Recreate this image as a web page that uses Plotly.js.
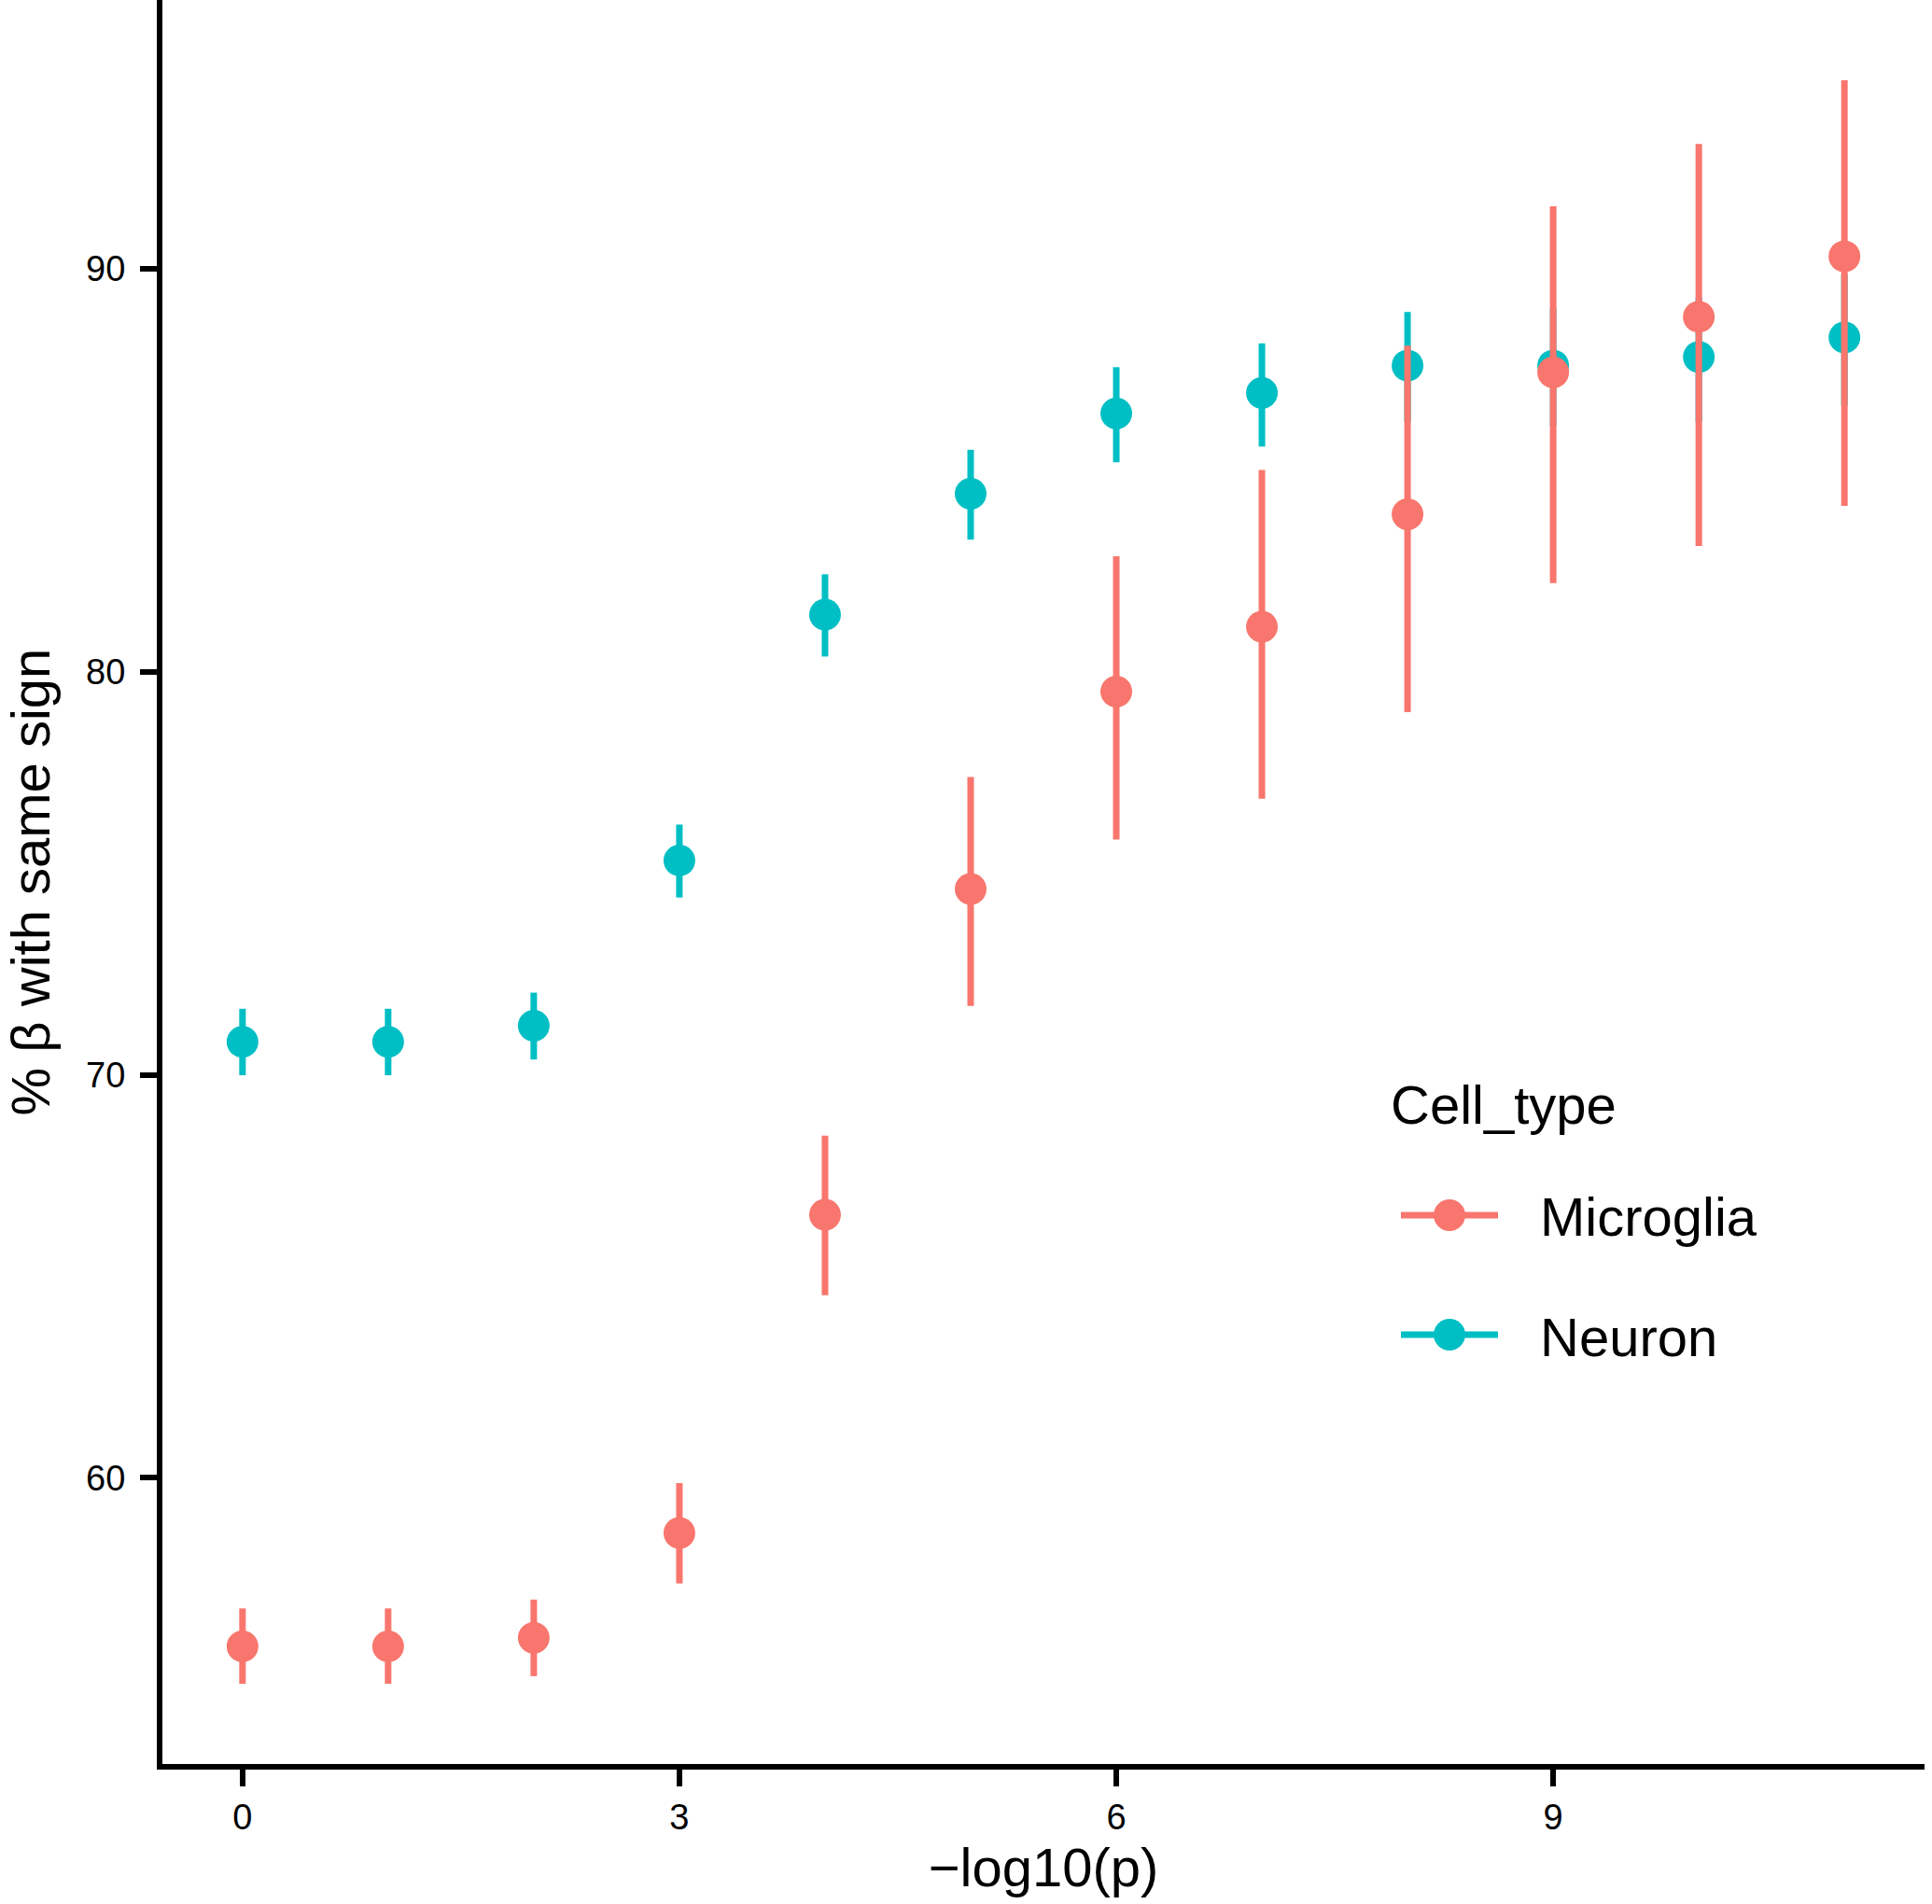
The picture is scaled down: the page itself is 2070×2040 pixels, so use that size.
<!DOCTYPE html>
<html>
<head>
<meta charset="utf-8">
<script src="https://cdn.plot.ly/plotly-3.0.1.min.js"></script>
<style>html,body{margin:0;padding:0;background:#fff;}#chart{width:2070px;height:2040px;}</style>
</head>
<body>
<div id="chart"></div>
<script>
// ---- data ----
const xVals = [0, 1, 2, 3, 4, 5, 6, 7, 8, 9, 10, 11];
const neuronMean = [70.82, 70.82, 71.22, 75.32, 81.42, 84.42, 86.41, 86.92, 87.60, 87.60, 87.81, 88.30];
const neuronLow  = [69.99, 69.99, 70.38, 74.40, 80.38, 83.28, 85.20, 85.59, 86.21, 86.10, 86.20, 86.60];
const neuronHigh = [71.64, 71.64, 72.04, 76.21, 82.42, 85.51, 87.56, 88.15, 88.93, 89.02, 89.29, 89.86];
const microMean  = [55.82, 55.82, 56.03, 58.63, 66.53, 74.61, 79.51, 81.12, 83.91, 87.43, 88.81, 90.31];
const microLow   = [54.89, 54.89, 55.08, 57.38, 64.53, 71.71, 75.84, 76.85, 79.00, 82.20, 83.12, 84.12];
const microHigh  = [56.76, 56.76, 56.98, 59.87, 68.49, 77.39, 82.87, 85.01, 88.09, 91.55, 93.10, 94.68];
const seriesNames = ["Microglia", "Neuron"];
const legendTitle = "Cell_type";
const xTickVals = [0, 3, 6, 9];
const yTickVals = [60, 70, 80, 90];

const colMicro = "#F8766D";
const colNeuron = "#00BFC4";
const FONT = "Liberation Sans, Arial, Helvetica, sans-serif";

function trace(name, mean, lo, hi, color) {
  return {
    type: "scatter", mode: "markers", name: name,
    x: xVals, y: mean, showlegend: false, cliponaxis: false,
    marker: {color: color, size: 34},
    error_y: {
      type: "data", symmetric: false,
      array: hi.map((v, i) => v - mean[i]),
      arrayminus: lo.map((v, i) => mean[i] - v),
      width: 0, thickness: 7, color: color
    },
    hoverinfo: "x+y+name"
  };
}

const data = [
  trace(seriesNames[1], neuronMean, neuronLow, neuronHigh, colNeuron),
  trace(seriesNames[0], microMean, microLow, microHigh, colMicro)
];

// plot area in pixels
const W = 2070, H = 2040;
const M = {l: 174, r: 8, t: 0, b: 150};
const pw = W - M.l - M.r, ph = H - M.t - M.b;
const px = v => (v - M.l) / pw;
const py = v => (H - M.b - v) / ph;

// custom legend (keys as line + dot, text as annotations)
const legendKeys = [
  {name: seriesNames[0], color: colMicro, y: 1302},
  {name: seriesNames[1], color: colNeuron, y: 1430}
];
const shapes = [];
const annotations = [{
  text: legendTitle, xref: "paper", yref: "paper", x: px(1488), y: py(1184),
  xanchor: "left", yanchor: "middle", showarrow: false,
  font: {family: FONT, size: 58, color: "#000"}
}];
legendKeys.forEach(k => {
  shapes.push({type: "line", xref: "paper", yref: "paper", x0: px(1501), x1: px(1605), y0: py(k.y), y1: py(k.y),
    line: {color: k.color, width: 7}, layer: "above"});
  shapes.push({type: "circle", xref: "paper", yref: "paper", xsizemode: "pixel", ysizemode: "pixel",
    xanchor: px(1553), yanchor: py(k.y), x0: -17, x1: 17, y0: -17, y1: 17,
    fillcolor: k.color, line: {width: 0}, layer: "above"});
  annotations.push({text: k.name, xref: "paper", yref: "paper", x: px(1648), y: py(k.y + 2),
    xanchor: "left", yanchor: "middle", showarrow: false,
    font: {family: FONT, size: 58, color: "#000"}});
});

const layout = {
  width: W, height: H,
  margin: M,
  paper_bgcolor: "#fff", plot_bgcolor: "#fff",
  font: {family: FONT, color: "#000"},
  showlegend: false,
  xaxis: {
    range: [-0.55, 11.55], tickvals: xTickVals, ticktext: xTickVals.map(String),
    showgrid: false, zeroline: false, showline: true, linecolor: "#000", linewidth: 6,
    ticks: "outside", ticklen: 18, tickwidth: 6, tickcolor: "#000",
    tickfont: {family: FONT, size: 38, color: "#000"}, ticklabelstandoff: 0,
    title: {text: "\u2212log10(p)", font: {family: FONT, size: 58, color: "#000"}, standoff: 14},
    automargin: false
  },
  yaxis: {
    range: [52.9, 96.67], tickvals: yTickVals, ticktext: yTickVals.map(String),
    showgrid: false, zeroline: false, showline: true, linecolor: "#000", linewidth: 6,
    ticks: "outside", ticklen: 18, tickwidth: 6, tickcolor: "#000",
    tickfont: {family: FONT, size: 38, color: "#000"}, ticklabelstandoff: 8,
    title: {text: "% \u03b2 with same sign", font: {family: FONT, size: 58, color: "#000"}, standoff: 26},
    automargin: false
  },
  shapes: shapes,
  annotations: annotations
};

Plotly.newPlot("chart", data, layout, {displayModeBar: false, responsive: false});
</script>
</body>
</html>
